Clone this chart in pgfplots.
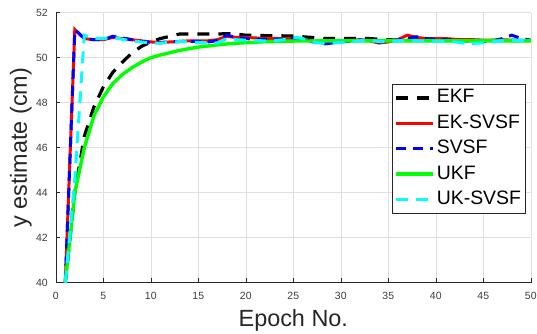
\documentclass[border=0pt]{standalone}
\usepackage{pgfplots}
\pgfplotsset{compat=1.18}
\usepackage{pgfplotstable}
\usepackage{fontspec}
\setmainfont{Liberation Sans}
\definecolor{axc}{RGB}{38,38,38}
\definecolor{gridc}{RGB}{223,223,223}
\definecolor{tickc}{RGB}{60,60,60}
\definecolor{mygreen}{RGB}{0,255,0}
\definecolor{mycyan}{RGB}{0,255,255}

\pgfplotstableread{
x EKF EKSVSF SVSF UKF UKSVSF
1 40 40 40 40 40
2 44.0 51.25 51.25 44.0 44.6
3 46.5 50.85 50.85 46.0 51.0
4 47.8 50.8 50.8 47.4 50.85
5 48.7 50.8 50.8 48.25 50.85
6 49.35 50.9 50.95 48.85 50.9
7 49.8 50.85 50.88 49.25 50.82
8 50.2 50.8 50.8 49.55 50.75
9 50.5 50.75 50.72 49.8 50.7
10 50.7 50.7 50.68 50.0 50.65
11 50.85 50.68 50.66 50.12 50.65
12 50.95 50.7 50.7 50.22 50.68
13 51.05 50.72 50.72 50.32 50.72
14 51.05 50.75 50.73 50.4 50.7
15 51.05 50.75 50.72 50.47 50.68
16 51.05 50.75 50.7 50.52 50.66
17 51.05 50.8 50.76 50.57 50.66
18 51.07 50.95 51.0 50.61 50.85
19 51.05 50.9 50.9 50.64 50.8
20 51.0 50.9 50.85 50.67 50.78
21 51.0 50.88 50.82 50.69 50.76
22 50.98 50.85 50.8 50.71 50.75
23 50.98 50.85 50.8 50.72 50.76
24 50.97 50.85 50.82 50.73 50.8
25 50.97 50.85 50.88 50.74 50.92
26 50.93 50.8 50.85 50.74 50.85
27 50.9 50.75 50.72 50.74 50.7
28 50.86 50.7 50.6 50.75 50.64
29 50.85 50.72 50.65 50.75 50.65
30 50.85 50.75 50.7 50.75 50.68
31 50.85 50.78 50.74 50.75 50.7
32 50.85 50.8 50.78 50.75 50.75
33 50.85 50.75 50.78 50.75 50.78
34 50.82 50.65 50.7 50.75 50.72
35 50.8 50.7 50.72 50.75 50.7
36 50.78 50.8 50.78 50.75 50.75
37 50.78 51.0 50.85 50.75 50.78
38 50.77 50.9 50.93 50.75 50.75
39 50.76 50.85 50.85 50.75 50.74
40 50.76 50.85 50.82 50.75 50.74
41 50.76 50.85 50.8 50.75 50.72
42 50.76 50.82 50.78 50.75 50.7
43 50.76 50.8 50.75 50.75 50.65
44 50.76 50.8 50.72 50.75 50.64
45 50.76 50.78 50.72 50.75 50.66
46 50.76 50.78 50.75 50.75 50.7
47 50.76 50.8 50.85 50.75 50.75
48 50.76 50.78 51.0 50.75 50.78
49 50.76 50.77 50.85 50.75 50.76
50 50.76 50.76 50.78 50.75 50.75
}\data

\begin{document}
\begin{tikzpicture}
\begin{axis}[
  scale only axis, width=475bp, height=270bp,
  xmin=0, xmax=50, ymin=40, ymax=52,
  xtick={0,5,...,50}, ytick={40,42,...,52},
  axis x line*=bottom, axis y line*=left,
  axis line style={-, draw=axc, line width=0.6bp},
  tick align=inside, major tick length=4.5bp,
  tick style={draw=axc, line width=0.6bp},
  grid=major, major grid style={draw=gridc, line width=0.6bp},
  /pgf/number format/assume math mode=true,
  ticklabel style={font=\fontsize{10.5}{12}\selectfont, text=tickc},
  yticklabel style={xshift=-4.5bp},
  xticklabel style={yshift=-6bp},
  xlabel={Epoch No.}, ylabel={y estimate (cm)},
  label style={font=\fontsize{23.5}{28}\selectfont, text=axc},
  xlabel style={at={(axis description cs:0.5,-0.163)}, anchor=base},
  ylabel style={at={(axis description cs:-0.0737,0.5)}, anchor=center},
  legend cell align=left,
  legend image code/.code={\draw[#1] (0bp,0bp) -- (37bp,0bp);},
  legend style={at={(0.708,0.736)}, anchor=north west, draw=axc,
    line width=0.6bp, fill=white, font=\fontsize{19.5}{22}\selectfont,
    inner xsep=2bp, inner ysep=1bp, row sep=0bp,
    nodes={inner xsep=2bp, inner ysep=2.7bp, text height=15bp, text depth=5bp}},
]
\addplot[black, line width=3.2bp, dash pattern=on 12bp off 9bp] table[x=x,y=EKF] {\data};
\addlegendentry{EKF}
\addplot[red, line width=3bp] table[x=x,y=EKSVSF] {\data};
\addlegendentry{EK-SVSF}
\addplot[blue, line width=3bp, dash pattern=on 10bp off 7bp] table[x=x,y=SVSF] {\data};
\addlegendentry{SVSF}
\addplot[mygreen, line width=3.4bp] table[x=x,y=UKF] {\data};
\addlegendentry{UKF}
\addplot[mycyan, line width=3bp, dash pattern=on 12bp off 8bp] table[x=x,y=UKSVSF] {\data};
\addlegendentry{UK-SVSF}
\coordinate (SW) at (rel axis cs:0,0);
\coordinate (NE) at (rel axis cs:1,1);
\end{axis}
\pgfresetboundingbox
\path ([shift={(-55.8bp,-50.3bp)}]SW) rectangle ([shift={(6.2bp,12.7bp)}]NE);
\end{tikzpicture}
\end{document}
